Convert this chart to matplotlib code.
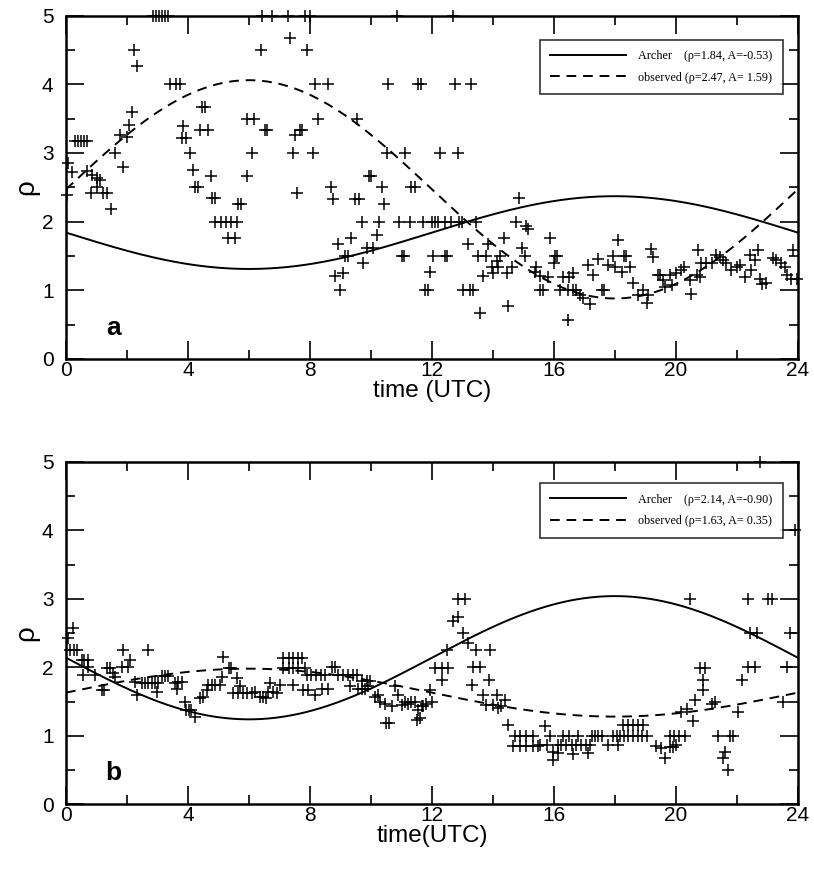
import numpy as np
import matplotlib
matplotlib.use('Agg')
import matplotlib.pyplot as plt
from matplotlib.ticker import MultipleLocator

# fitted diurnal models: rho + A*sin(2*pi*t/24)
fit_a = {'Archer': (1.84, -0.53), 'observed': (2.47, 1.59)}
fit_b = {'Archer': (2.14, -0.90), 'observed': (1.63, 0.35)}

# panel a observations (hour UTC, rho)
t_a = [2.85, 2.95, 3.05, 3.15, 3.25, 3.35, 2.24, 2.32, 3.41, 3.6, 3.75, 2.15, 2.07, 1.77, 1.99,
       1.61, 1.88, 0.3, 0.4, 0.5, 0.6, 0.68, 0.05, 0.19, 0.68, 0.84, 1.0, 1.11, 0.82, 1.0,
       1.22, 1.33, 1.46, 0.02, 3.85, 3.8, 3.92,
       6.43, 6.75, 7.28, 7.84, 8.0, 7.34, 6.41, 7.9, 4.45, 4.55, 4.39, 4.67, 4.07, 4.17, 4.24, 4.32,
       4.74, 4.8, 4.88, 5.65, 5.75, 4.9, 5.07, 5.25, 5.42, 5.6, 5.32, 5.54, 5.92, 6.16, 6.52, 6.6,
       6.09, 5.92, 7.45, 7.51, 7.67, 7.56, 7.73,
       10.84, 8.16, 8.6, 10.57, 11.55, 11.65, 8.27, 9.53, 8.09, 10.52, 11.12, 9.93, 10.01,
       8.68, 8.74, 9.48, 9.62, 10.35, 10.43, 11.33, 11.45, 9.7, 10.26, 10.93, 11.28, 11.72,
       8.93, 9.35, 10.19, 9.16, 9.24, 9.86, 10.06, 9.75, 11.02, 11.1, 8.82, 9.09, 9.0, 11.77,
       12.68, 12.75, 13.27, 12.28, 12.86, 14.86, 11.99, 12.1, 12.2, 12.42, 12.63, 12.9, 13.0, 13.45,
       14.77, 13.19, 13.85, 14.36, 15.1, 15.15, 14.94, 15.05, 12.02, 12.42, 12.5, 13.52, 13.79,
       14.23, 14.12, 13.96, 14.18, 14.64, 15.43, 15.38, 13.68, 14.01, 14.45, 11.93, 11.88,
       13.03, 13.25, 13.35, 15.54, 13.59, 14.5,
       15.87, 16.03, 16.1, 16.0, 15.54, 15.82, 15.65, 16.3, 16.5, 16.63, 16.2, 16.47, 16.63, 16.74,
       16.85, 16.96, 17.18, 16.47, 17.13, 17.45, 17.29, 17.58, 17.66, 18.11, 17.95, 18.29, 18.37,
       17.78, 18.0, 18.22, 18.49, 18.6, 18.77, 18.93, 19.1, 19.04, 19.26, 19.2, 19.42, 19.58,
       19.48, 19.64, 19.86, 19.8, 20.02, 20.18, 20.28, 20.51, 20.48, 20.68, 20.79, 20.73, 20.84,
       21.0, 21.17, 21.33, 21.44, 21.55, 21.66, 21.82, 21.99, 22.1, 22.26, 22.48, 22.59, 22.7,
       22.43, 22.75, 22.81, 22.97, 23.19, 23.3, 23.46, 23.57, 23.63, 23.79, 23.96, 23.85]
rho_a = [5.0, 5.0, 5.0, 5.0, 5.0, 5.0, 4.5, 4.26, 4.0, 4.0, 4.0, 3.6, 3.41, 3.26, 3.23,
         3.0, 2.8, 3.17, 3.17, 3.17, 3.17, 3.17, 2.86, 2.72, 2.74, 2.68, 2.64, 2.61, 2.42, 2.51,
         2.41, 2.41, 2.19, 2.39, 3.39, 3.22, 3.22,
         5.0, 5.0, 5.0, 5.0, 5.0, 4.67, 4.5, 4.5, 3.67, 3.67, 3.34, 3.34, 3.0, 2.75, 2.51, 2.51,
         2.67, 2.34, 2.34, 2.25, 2.25, 2.0, 2.0, 2.0, 2.0, 2.0, 1.76, 1.76, 3.5, 3.5, 3.34, 3.34,
         3.0, 2.67, 3.0, 3.26, 3.33, 2.41, 3.34,
         5.0, 4.0, 4.0, 4.0, 4.0, 4.0, 3.5, 3.5, 3.0, 3.0, 3.0, 2.67, 2.67,
         2.5, 2.33, 2.33, 2.33, 2.5, 2.25, 2.5, 2.5, 2.0, 2.0, 2.0, 2.0, 2.0,
         1.67, 1.76, 1.8, 1.5, 1.5, 1.61, 1.61, 1.4, 1.5, 1.5, 1.21, 1.25, 1.0, 1.0,
         5.0, 4.0, 4.0, 3.0, 3.0, 2.34, 2.0, 2.0, 2.0, 2.0, 2.0, 2.0, 2.0, 2.0,
         2.0, 1.67, 1.67, 1.76, 1.93, 1.89, 1.61, 1.5, 1.5, 1.5, 1.5, 1.5, 1.5,
         1.5, 1.42, 1.34, 1.34, 1.34, 1.34, 1.26, 1.21, 1.25, 1.25, 1.26, 1.0,
         1.0, 1.0, 1.0, 1.0, 0.67, 0.77,
         1.76, 1.5, 1.5, 1.4, 1.21, 1.2, 1.0, 1.2, 1.2, 1.25, 1.0, 1.0, 1.0, 1.0,
         0.93, 0.88, 0.8, 0.57, 1.37, 1.45, 1.22, 1.0, 1.0, 1.73, 1.5, 1.5, 1.5,
         1.37, 1.34, 1.27, 1.34, 1.1, 0.93, 1.0, 0.93, 0.81, 1.49, 1.6, 1.22, 1.15,
         1.22, 1.05, 1.08, 1.22, 1.25, 1.3, 1.34, 0.94, 1.15, 1.22, 1.2, 1.59, 1.39,
         1.39, 1.39, 1.51, 1.49, 1.44, 1.39, 1.3, 1.34, 1.37, 1.2, 1.3, 1.44, 1.59,
         1.51, 1.16, 1.09, 1.1, 1.47, 1.44, 1.39, 1.34, 1.22, 1.17, 1.17, 1.59]

# panel b observations
t_b = [0.24, 0.05, 0.13, 0.27, 0.37, 0.51, 0.6, 0.73, 0.57, 0.73, 0.95, 1.17, 1.25, 1.33, 1.44,
       1.61, 1.55, 1.88, 2.7, 2.1, 2.04, 1.83, 2.26, 2.48, 2.59, 2.7, 2.32, 2.81, 2.92, 3.03, 2.97,
       3.14, 3.25, 3.36, 3.58, 3.68, 3.79, 3.63, 3.9,
       3.95, 4.02, 4.1, 4.22, 4.39, 4.5, 4.61, 4.67, 4.78, 4.9, 5.05, 5.1, 5.16, 5.34, 5.42, 5.6,
       5.7, 5.48, 5.65, 5.8, 5.95, 6.1, 6.2, 6.36, 6.47, 6.55, 6.64, 6.69, 6.8, 6.91, 7.02, 7.45,
       7.78, 7.13, 7.3, 7.45, 7.6, 7.13, 7.3, 7.45, 7.6,
       7.73, 7.84, 7.9, 8.05, 8.2, 8.35, 8.5, 8.71, 8.82, 8.93, 9.1, 9.25, 9.4, 9.53, 9.7, 9.86,
       9.97, 7.95, 8.16, 8.38, 8.6, 9.31, 9.59, 9.7, 9.8, 9.91, 10.13, 10.24, 10.3, 10.46, 10.68,
       10.79, 10.9, 11.01, 11.12, 11.23, 11.33, 11.44, 10.5, 10.58, 11.5, 11.55, 11.66,
       11.61, 11.72, 11.82, 11.99, 11.93, 12.1, 12.32, 12.53, 12.32, 12.48, 12.86, 13.08, 12.7,
       12.86, 13.03, 13.19, 13.45, 13.9, 13.35, 13.57, 13.3, 13.88, 13.68, 14.12, 14.39, 13.79,
       14.01, 14.17, 14.28, 14.5, 14.72, 14.9, 15.1, 15.3, 14.67, 14.88, 15.1, 15.32, 15.49, 15.7,
       15.87, 16.3, 16.5, 16.8, 15.54, 15.76, 16.14, 16.25, 16.41, 16.58, 16.74, 16.9, 17.07,
       17.18, 15.98, 15.98, 16.14, 16.63, 17.13, 17.24, 17.35, 17.45, 17.57, 17.78, 18.11, 17.95,
       18.06, 18.17, 18.3, 18.44, 18.6, 18.75, 18.9, 19.05, 18.27, 18.44, 18.6, 18.77, 18.93,
       19.36, 19.52,
       19.64, 19.8, 19.91, 20.02, 19.8, 19.95, 20.1, 20.3, 20.18, 20.35, 20.57, 20.62, 20.9, 20.46,
       20.79, 20.95, 20.9, 21.28, 21.17, 21.39, 21.77, 21.86, 21.6, 21.55, 21.71, 22.05, 22.16,
       22.37, 22.59, 22.43, 22.65, 22.37, 23.03, 23.14, 23.52, 23.63, 23.74, 23.9, 22.75]
rho_b = [2.57, 2.43, 2.25, 2.25, 2.25, 2.1, 2.1, 2.1, 1.89, 2.0, 1.89, 1.67, 1.67, 1.99, 1.99,
         1.86, 1.91, 2.25, 2.25, 2.1, 2.0, 2.0, 1.79, 1.77, 1.77, 1.77, 1.6, 1.77, 1.77, 1.77, 1.64,
         1.87, 1.87, 1.87, 1.77, 1.79, 1.79, 1.68, 1.5,
         1.38, 1.38, 1.38, 1.28, 1.55, 1.57, 1.67, 1.74, 1.74, 1.74, 1.74, 1.86, 2.15, 1.99, 1.99,
         1.84, 1.72, 1.62, 1.62, 1.62, 1.62, 1.62, 1.64, 1.57, 1.57, 1.55, 1.64, 1.77, 1.64, 1.62,
         1.74, 1.74, 1.67, 2.13, 2.13, 2.13, 2.13, 1.99, 1.99, 1.99, 1.99,
         2.13, 1.99, 1.89, 1.89, 1.89, 1.89, 1.89, 2.0, 2.0, 1.89, 1.89, 1.89, 1.89, 1.89, 1.8, 1.8,
         1.8, 1.67, 1.6, 1.69, 1.69, 1.72, 1.69, 1.69, 1.69, 1.72, 1.57, 1.6, 1.5, 1.47, 1.43,
         1.72, 1.6, 1.45, 1.5, 1.47, 1.5, 1.5, 1.18, 1.18, 1.23, 1.38, 1.43,
         1.26, 1.43, 1.47, 1.5, 1.67, 1.99, 1.99, 1.99, 1.82, 2.25, 3.0, 3.0, 2.67,
         2.74, 2.5, 2.35, 2.25, 2.25, 2.0, 2.0, 1.74, 1.82, 1.6, 1.6, 1.52, 1.45,
         1.45, 1.4, 1.43, 1.16, 1.0, 1.0, 1.0, 1.0, 0.85, 0.85, 0.85, 0.85, 0.85, 1.14,
         0.99, 0.99, 0.99, 0.99, 0.87, 0.87, 0.87, 0.87, 0.87, 0.87, 0.87, 0.87, 0.87,
         0.87, 0.77, 0.65, 0.75, 0.73, 0.75, 1.0, 1.0, 1.0, 1.0, 0.87, 0.87, 1.0,
         1.0, 1.0, 1.0, 1.0, 1.0, 1.0, 1.0, 1.0, 1.16, 1.16, 1.16, 1.16, 1.16,
         0.85, 0.82,
         0.67, 0.84, 0.84, 0.87, 1.0, 1.0, 1.0, 1.0, 1.35, 1.39, 1.21, 1.52, 1.67, 3.0,
         1.99, 1.99, 1.82, 1.5, 1.47, 1.0, 1.0, 1.0, 0.77, 0.67, 0.5, 1.35, 1.82,
         2.0, 2.0, 2.5, 2.5, 3.0, 3.0, 3.0, 1.5, 2.0, 2.5, 4.0, 5.0]


def draw_panel(ax, t, rho, fits, label, xlabel, leg_top):
    tt = np.linspace(0, 24, 400)
    names = {'Archer': 'Archer    ', 'observed': 'observed '}
    for key in ['Archer', 'observed']:
        r, a = fits[key]
        kw = {'dashes': (5, 3.5)} if key == 'observed' else {'ls': '-'}
        ax.plot(tt, r + a * np.sin(2 * np.pi * tt / 24), color='black', lw=1.4,
                label=f'{names[key]}(\u03c1={r:.2f}, A={a:5.2f})', **kw)
    ax.plot(t, rho, ls='none', marker='+', ms=8.5, mew=1.1, color='black', clip_on=False)
    ax.set_xlim(0, 24)
    ax.set_ylim(0, 5)
    ax.xaxis.set_major_locator(MultipleLocator(4))
    ax.xaxis.set_minor_locator(MultipleLocator(2))
    ax.yaxis.set_major_locator(MultipleLocator(1))
    ax.yaxis.set_minor_locator(MultipleLocator(0.5))
    ax.tick_params(which='both', direction='in', top=True, right=True, labelsize=15, width=1.2)
    ax.tick_params(axis='x', pad=1.5)
    ax.tick_params(axis='y', pad=9)
    ax.tick_params(which='major', length=13)
    ax.tick_params(which='minor', length=6.5)
    for s in ax.spines.values():
        s.set_linewidth(1.8)
    ax.set_xlabel(xlabel, fontsize=17.5, labelpad=0)
    ax.set_ylabel('\u03c1', fontsize=20, labelpad=2)
    ax.text(1.55, 0.45, label, fontsize=19, fontweight='bold', ha='center', va='center')
    leg = ax.legend(loc='upper right', bbox_to_anchor=(0.9795, leg_top), borderaxespad=0,
                    fancybox=False, edgecolor='black', handlelength=6.3, handletextpad=1.0,
                    borderpad=0.85, labelspacing=0.8,
                    prop={'family': 'Liberation Serif', 'size': 8.7})
    leg.get_frame().set_linewidth(1.2)


plt.rcParams['font.family'] = ['Liberation Sans', 'DejaVu Sans']
fig = plt.figure(figsize=(8.14, 8.69), dpi=100)
ax1 = fig.add_axes([0.0811, 0.587, 0.899, 0.395])
ax2 = fig.add_axes([0.0811, 0.0745, 0.899, 0.394])
draw_panel(ax1, t_a, rho_a, fit_a, 'a', 'time (UTC)', 0.93)
draw_panel(ax2, t_b, rho_b, fit_b, 'b', 'time(UTC)', 0.937)
fig.savefig('out.png', dpi=100)
